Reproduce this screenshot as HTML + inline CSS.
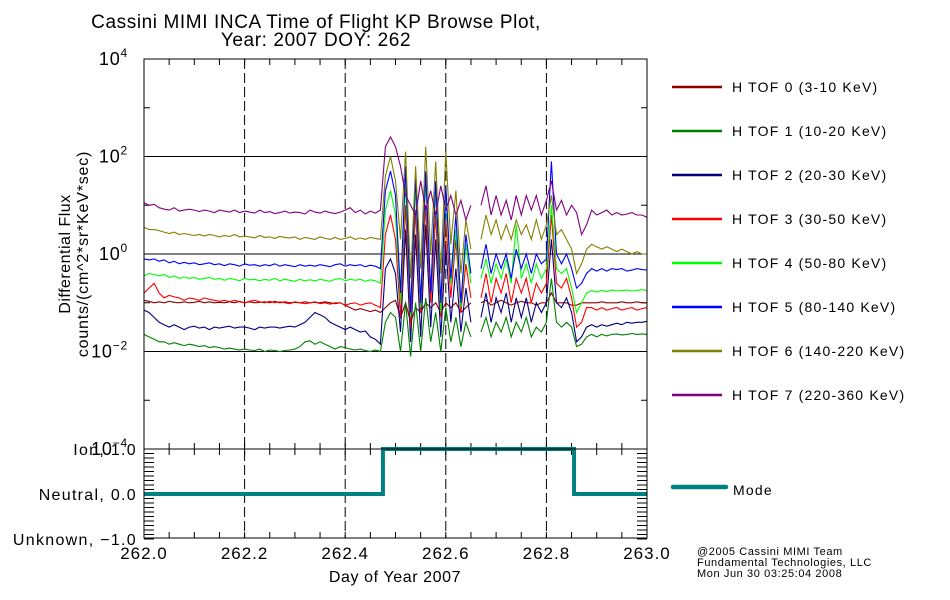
<!DOCTYPE html>
<html><head><meta charset="utf-8"><style>
body{margin:0;background:#fff;}
svg{display:block;font-family:"Liberation Sans",sans-serif;}
</style></head><body>
<svg id="chart" width="950" height="600" viewBox="0 0 950 600" xmlns="http://www.w3.org/2000/svg">
<text x="316" y="28" font-size="19" text-anchor="middle" fill="#000" letter-spacing="0.6">Cassini MIMI INCA Time of Flight KP Browse Plot,</text>
<text x="316" y="46" font-size="19" text-anchor="middle" fill="#000" letter-spacing="0.6">Year: 2007 DOY: 262</text>
<text transform="translate(70,254) rotate(-90)" font-size="16" text-anchor="middle" fill="#000" letter-spacing="0.5">Differential Flux</text>
<text transform="translate(88,254) rotate(-90)" font-size="16" text-anchor="middle" fill="#000" letter-spacing="0.8">counts/(cm^2*sr*KeV*sec)</text>
<text x="395" y="582" font-size="16" text-anchor="middle" fill="#000" letter-spacing="0.6">Day of Year 2007</text>
<text x="697" y="555" font-size="11" fill="#000" letter-spacing="0.6">@2005 Cassini MIMI Team</text>
<text x="697" y="566" font-size="11" fill="#000" letter-spacing="0.6">Fundamental Technologies, LLC</text>
<text x="697" y="577" font-size="11" fill="#000" letter-spacing="0.6">Mon Jun 30 03:25:04 2008</text>
<g id="g"></g>
</svg>
<script>
const seriesNames = ["H TOF 0 (3-10 KeV)","H TOF 1 (10-20 KeV)","H TOF 2 (20-30 KeV)","H TOF 3 (30-50 KeV)","H TOF 4 (50-80 KeV)","H TOF 5 (80-140 KeV)","H TOF 6 (140-220 KeV)","H TOF 7 (220-360 KeV)"];
const seriesColors = ["#8b0000","#008000","#000080","#ff0000","#00ff00","#0000ff","#808000","#800080"];
const xStart = 262.0, xStep = 0.01;
const xTicks = [262.0,262.2,262.4,262.6,262.8,263.0];
const yDecades = [4,2,0,-2,-4];
const modeLabels = ["Ion, 1.0","Neutral, 0.0","Unknown, -1.0"];
const modeLevels = [1,0,-1];
const modeX = [262.0,262.475,262.475,262.855,262.855,263.0];
const modeY = [0,0,1,1,0,0];
// log10 flux values, one per 0.01 day; null = data gap
const tof0 = [-0.95,-0.97,-1.0,-0.98,-1.0,-0.97,-0.99,-1.0,-0.98,-1.0,-0.99,-0.97,-1.0,-0.98,-1.0,-0.99,-1.0,-0.98,-1.0,-0.97,-1.0,-0.98,-1.0,-0.99,-0.98,-1.0,-0.97,-1.0,-0.98,-1.0,-0.99,-1.0,-0.98,-1.0,-0.99,-1.0,-0.98,-1.0,-1.02,-1.0,-1.05,-1.1,-1.15,-1.12,-1.15,-1.18,-1.15,-1.2,
 -1.1,-1.0,-0.95,-1.3,-1.0,-1.4,-1.1,-1.2,-1.0,-1.1,-1.0,-1.2,-1.0,-1.1,-1.0,-1.2,-1.1,-1.0,null,
 -1.0,-0.95,-1.05,-1.0,-0.95,-1.0,-1.05,-1.0,-0.97,-1.0,-1.0,-1.05,-1.0,-1.0,-0.8,-1.0,-1.0,-1.0,-1.05,
 -1.05,-1.0,-1.0,-1.0,-1.0,-0.98,-1.0,-1.0,-1.0,-0.98,-1.0,-1.0,-0.98,-1.0,-1.0];
const tof1 = [-1.65,-1.7,-1.75,-1.8,-1.8,-1.85,-1.82,-1.85,-1.88,-1.85,-1.87,-1.9,-1.88,-1.92,-1.9,-1.92,-1.95,-1.93,-1.95,-1.97,-1.95,-1.97,-1.98,-1.95,-2.0,-1.97,-1.98,-2.0,-1.98,-1.97,-1.95,-1.9,-1.8,-1.78,-1.85,-1.8,-1.85,-1.9,-1.95,-1.9,-1.92,-1.95,-1.97,-1.95,-1.98,-2.0,-1.97,-2.0,
 -1.4,-1.2,-1.3,-2.0,-1.0,-2.1,-1.0,-2.0,-0.9,-1.8,-1.2,-2.0,-1.1,-1.8,-1.3,-1.9,-1.4,-1.7,null,
 -1.6,-1.3,-1.7,-1.4,-1.6,-1.3,-1.7,-1.4,-1.6,-1.3,-1.7,-1.5,-1.6,-1.4,-0.5,-1.4,-1.5,-1.4,-1.5,
 -1.9,-1.85,-1.7,-1.65,-1.7,-1.65,-1.68,-1.65,-1.64,-1.66,-1.65,-1.63,-1.65,-1.64,-1.65];
const tof2 = [-1.15,-1.2,-1.3,-1.4,-1.45,-1.5,-1.45,-1.5,-1.55,-1.5,-1.48,-1.52,-1.5,-1.55,-1.5,-1.52,-1.5,-1.48,-1.52,-1.5,-1.5,-1.52,-1.55,-1.5,-1.52,-1.5,-1.5,-1.52,-1.5,-1.48,-1.5,-1.45,-1.4,-1.3,-1.2,-1.25,-1.3,-1.4,-1.45,-1.5,-1.55,-1.5,-1.55,-1.6,-1.58,-1.7,-1.75,-1.85,
 -0.3,-0.1,-0.4,-1.6,0.5,-1.8,0.4,-1.7,0.6,-1.5,0.3,-1.7,0.2,-1.4,-0.3,-1.6,-0.7,-1.4,null,
 -1.3,-0.8,-1.4,-0.9,-1.2,-0.8,-1.4,-0.9,-1.3,-0.9,-1.4,-1.0,-1.2,-1.0,0.3,-1.0,-1.1,-0.9,-1.2,
 -1.8,-1.7,-1.5,-1.45,-1.5,-1.45,-1.48,-1.45,-1.42,-1.45,-1.4,-1.42,-1.4,-1.4,-1.38];
const tof3 = [-0.8,-0.7,-0.6,-0.8,-0.9,-0.85,-0.88,-0.9,-0.95,-0.9,-0.92,-0.95,-0.9,-0.93,-0.95,-0.97,-0.95,-0.98,-0.95,-0.98,-1.0,-0.97,-0.95,-0.98,-1.0,-0.97,-1.0,-0.98,-1.0,-1.02,-0.98,-1.0,-1.02,-1.0,-0.98,-1.02,-1.0,-1.03,-1.0,-1.0,-1.05,-1.02,-1.0,-1.05,-1.02,-1.0,-1.05,-1.1,
 0.4,0.8,0.3,-1.3,1.0,-1.5,0.9,-1.2,1.0,-1.0,0.8,-1.3,0.7,-0.9,0.3,-1.2,-0.2,-0.9,null,
 -0.9,-0.4,-1.0,-0.5,-0.8,-0.4,-1.0,-0.5,-0.8,-0.5,-1.0,-0.6,-0.8,-0.6,0.8,-0.6,-0.7,-0.5,-0.9,
 -1.5,-1.4,-1.1,-1.1,-1.15,-1.1,-1.15,-1.12,-1.1,-1.15,-1.12,-1.1,-1.15,-1.12,-1.1];
const tof4 = [-0.45,-0.4,-0.42,-0.45,-0.42,-0.48,-0.45,-0.5,-0.47,-0.5,-0.48,-0.52,-0.5,-0.48,-0.52,-0.5,-0.54,-0.5,-0.52,-0.55,-0.5,-0.53,-0.52,-0.55,-0.52,-0.54,-0.5,-0.55,-0.52,-0.54,-0.56,-0.52,-0.55,-0.53,-0.55,-0.52,-0.54,-0.56,-0.52,-0.5,-0.55,-0.52,-0.54,-0.52,-0.56,-0.53,-0.55,-0.6,
 0.9,1.3,0.8,-1.0,1.5,-1.3,1.4,-1.1,1.5,-0.8,1.3,-1.2,1.2,-0.6,0.5,-1.1,0.2,-0.6,null,
 -0.5,-0.1,-0.6,-0.2,-0.5,-0.1,-0.6,0.6,-0.5,-0.2,-0.6,-0.2,-0.5,-0.3,1.0,-0.3,-0.4,-0.3,-0.7,
 -1.2,-1.0,-0.8,-0.75,-0.78,-0.75,-0.77,-0.74,-0.76,-0.75,-0.74,-0.76,-0.75,-0.73,-0.75];
const tof5 = [-0.1,-0.12,-0.1,-0.15,-0.12,-0.18,-0.15,-0.2,-0.17,-0.2,-0.18,-0.22,-0.2,-0.18,-0.22,-0.2,-0.24,-0.2,-0.22,-0.25,-0.2,-0.23,-0.22,-0.25,-0.22,-0.24,-0.2,-0.25,-0.22,-0.24,-0.26,-0.22,-0.25,-0.23,-0.25,-0.22,-0.24,-0.26,-0.22,-0.2,-0.25,-0.22,-0.24,-0.22,-0.26,-0.23,-0.25,-0.3,
 1.3,1.7,1.2,-0.8,1.8,-1.2,1.6,-1.0,1.7,-0.8,1.5,-1.0,1.4,-0.5,0.8,-1.0,0.4,-0.4,null,
 -0.3,0.2,-0.4,0.0,-0.3,0.0,-0.5,0.1,-0.3,0.0,-0.4,0.0,-0.2,-0.1,1.9,0.0,-0.2,0.0,-0.3,
 -0.7,-0.6,-0.4,-0.3,-0.35,-0.3,-0.35,-0.3,-0.32,-0.3,-0.35,-0.33,-0.3,-0.32,-0.33];
const tof6 = [0.55,0.5,0.5,0.48,0.45,0.42,0.45,0.4,0.42,0.4,0.38,0.4,0.37,0.4,0.38,0.35,0.38,0.36,0.4,0.35,0.37,0.35,0.33,0.38,0.34,0.35,0.32,0.36,0.34,0.33,0.35,0.3,0.34,0.32,0.3,0.35,0.32,0.3,0.34,0.3,0.32,0.35,0.3,0.33,0.3,0.34,0.32,0.3,
 1.6,2.0,1.5,0.3,2.1,-0.5,1.8,-0.3,2.2,0.0,1.9,-0.4,2.1,0.2,1.3,-0.4,0.7,0.1,null,
 0.3,0.8,0.4,0.7,0.3,0.6,0.3,0.7,0.4,0.6,0.3,0.7,0.3,0.6,1.2,0.4,0.5,0.3,0.1,
 -0.4,-0.2,0.1,0.2,0.15,0.1,0.15,0.1,0.05,0.1,0.05,0.0,0.05,0.0,0.0];
const tof7 = [1.05,1.0,1.02,0.95,0.92,0.9,0.95,0.88,0.9,0.92,0.9,0.87,0.9,0.88,0.85,0.9,0.88,0.86,0.9,0.85,0.88,0.86,0.84,0.9,0.85,0.87,0.83,0.85,0.88,0.84,0.86,0.85,0.82,0.9,0.86,0.84,0.88,0.85,0.83,0.86,0.9,0.95,0.85,0.9,0.82,0.88,0.84,0.9,
 2.2,2.4,2.2,1.8,1.2,1.0,0.8,1.5,0.9,1.3,0.8,1.4,0.9,1.2,0.8,1.1,0.7,1.0,null,
 1.0,1.4,0.8,1.2,0.8,1.1,0.7,1.2,0.8,1.2,0.9,1.2,0.8,1.1,1.5,0.9,1.1,0.8,1.0,
 0.85,0.4,0.6,0.9,0.8,0.85,0.9,0.8,0.85,0.8,0.82,0.85,0.8,0.8,0.75];
const allSeries = [tof0,tof1,tof2,tof3,tof4,tof5,tof6,tof7];

const NS="http://www.w3.org/2000/svg";
const g=document.getElementById('g');
const L=144,R=647,T=59,B=449,MT=449,MB=538;
const xs=v=>L+(v-262)/1*(R-L);
const ys=lg=>T+(4-lg)/8*(B-T);
const ym=v=>494-45*v;
function el(t,a,p){const e=document.createElementNS(NS,t);for(const k in a)e.setAttribute(k,a[k]);(p||g).appendChild(e);return e;}

yDecades.slice(1,4).forEach(d=>{
 const e=el('line',{x1:L,x2:R,y1:ys(d),y2:ys(d),stroke:'#000','stroke-width':1});
 
 
});
xTicks.slice(1,5).forEach(v=>{
 const e=el('line',{x1:xs(v),x2:xs(v),y1:T,y2:MB,stroke:'#000','stroke-width':1,'stroke-dasharray':'10,4'});
 
 
});
for(let d=-4;d<=4;d++){
 const len=(d%2===0)?10:6;
 el('line',{x1:L,x2:L+len,y1:ys(d),y2:ys(d),stroke:'#000'});
 el('line',{x1:R-len,x2:R,y1:ys(d),y2:ys(d),stroke:'#000'});
}
for(let v=-1;v<=1.001;v+=0.1){
 el('line',{x1:L,x2:L+10,y1:ym(v),y2:ym(v),stroke:'#000'});
 el('line',{x1:R-10,x2:R,y1:ym(v),y2:ym(v),stroke:'#000'});
}
for(let v=262;v<=263.001;v+=0.05){
 [[MB,-6],[MT,6],[B,-6],[T,6]].forEach(([y,dy])=>el('line',{x1:xs(v),x2:xs(v),y1:y,y2:y+dy,stroke:'#000'}));
}
allSeries.forEach((s,i)=>{
 let d='',pen=false;
 s.forEach((v,j)=>{
  if(v===null){pen=false;return;}
  d+=(pen?'L':'M')+xs(xStart+j*xStep).toFixed(1)+','+ys(v).toFixed(1);pen=true;
 });
 const p=el('path',{d:d,fill:'none',stroke:seriesColors[i],'stroke-width':1.1});
 
 
 const ly=87+44*i;
 const ll=el('line',{x1:672,x2:722,y1:ly,y2:ly,stroke:seriesColors[i],'stroke-width':2.5});
 
 
 const lt=el('text',{x:732,y:ly+5,'font-size':14,fill:'#000','letter-spacing':1.2});
 lt.textContent=seriesNames[i];
 
 
});
let md='';modeX.forEach((x,i)=>{md+=(i?'L':'M')+xs(x)+','+ym(modeY[i]);});
const mp=el('path',{d:md,fill:'none',stroke:'#008080','stroke-width':4});


const ml=el('line',{x1:673,x2:726,y1:487,y2:487,stroke:'#008080','stroke-width':4.5,'stroke-linecap':'round'});


const mt=el('text',{x:733,y:495,'font-size':14,fill:'#000','letter-spacing':1.2});mt.textContent='Mode';


const f1=el('rect',{x:L,y:T,width:R-L,height:B-T,fill:'none',stroke:'#000'});


const f2=el('rect',{x:L,y:MT,width:R-L,height:MB-MT,fill:'none',stroke:'#000'});


yDecades.forEach(d=>{
 const t=el('text',{x:128,y:ys(d)+6,'font-size':18,'text-anchor':'end',fill:'#000','letter-spacing':0.8});
 t.textContent='10';
 const s=el('tspan',{dy:-8,'font-size':12},t);s.textContent=String(d).replace('-','\u2212');
 
 
});
modeLabels.forEach((lab,i)=>{
 const t=el('text',{x:137,y:ym(modeLevels[i])+6,'font-size':16,'text-anchor':'end',fill:'#000','letter-spacing':1.3});
 t.textContent=lab.replace('-1','\u22121');
 
 
});
xTicks.forEach(v=>{
 const t=el('text',{x:xs(v),y:559,'font-size':17,'text-anchor':'middle',fill:'#000','letter-spacing':1});
 t.textContent=v.toFixed(1);
 
 
});
</script>
</body></html>
